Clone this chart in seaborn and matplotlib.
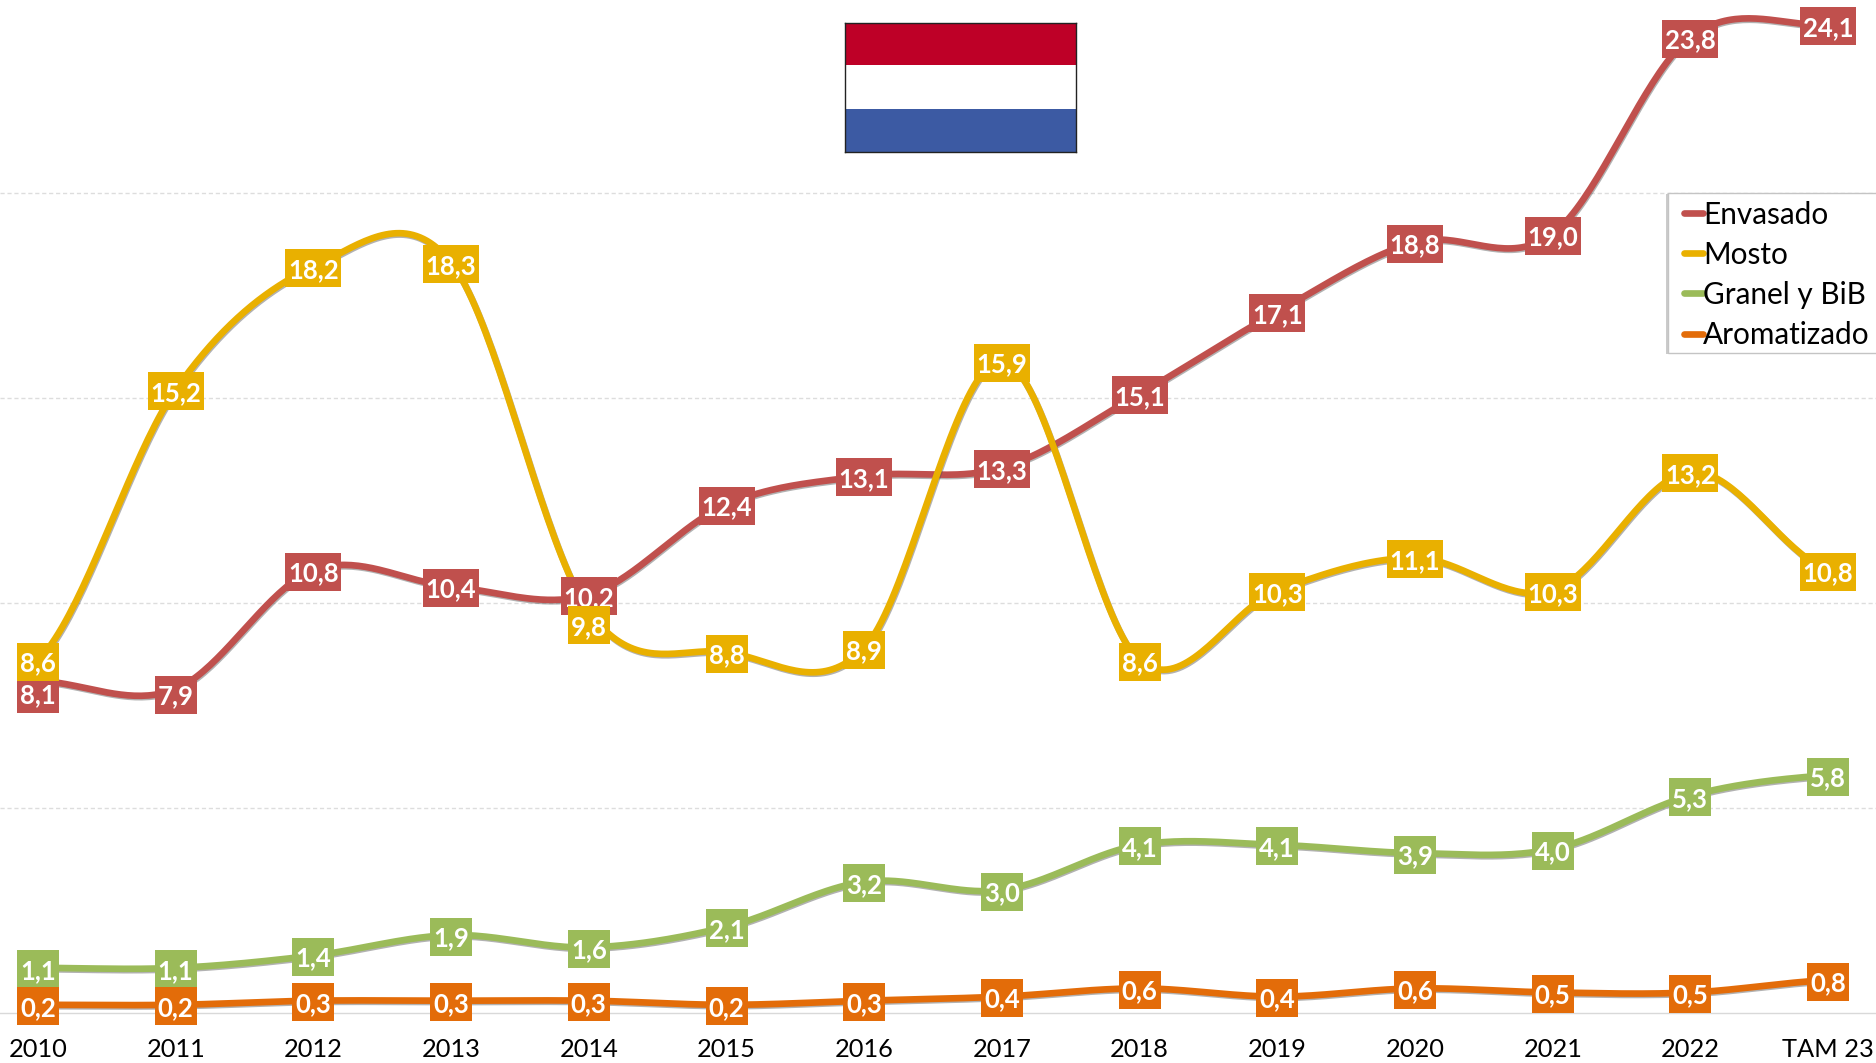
import numpy as np
import pandas as pd
import matplotlib
matplotlib.use("Agg")
import matplotlib.pyplot as plt
import matplotlib.patheffects as pe
from matplotlib.patches import Rectangle
import seaborn as sns

years = ["2010", "2011", "2012", "2013", "2014", "2015", "2016", "2017", "2018",
         "2019", "2020", "2021", "2022", "TAM 23"]
envasado = [8.1, 7.9, 10.8, 10.4, 10.2, 12.4, 13.1, 13.3, 15.1, 17.1, 18.8, 19.0, 23.8, 24.1]
mosto = [8.6, 15.2, 18.2, 18.3, 9.8, 8.8, 8.9, 15.9, 8.6, 10.3, 11.1, 10.3, 13.2, 10.8]
granel = [1.1, 1.1, 1.4, 1.9, 1.6, 2.1, 3.2, 3.0, 4.1, 4.1, 3.9, 4.0, 5.3, 5.8]
aromatizado = [0.2, 0.2, 0.3, 0.3, 0.3, 0.2, 0.3, 0.4, 0.6, 0.4, 0.6, 0.5, 0.5, 0.8]

series_names = ["Envasado", "Mosto", "Granel y BiB", "Aromatizado"]
series_values = [envasado, mosto, granel, aromatizado]
series_colors = ["#C0504D", "#E9B000", "#9BBB59", "#E36C09"]

W, H = 1876, 1063
PX_X0, PX_DX = 38.0, 137.7      # pixel of first category, pixels per category
PX_BASE, PX_UNIT = 1013.0, 41.0  # pixel of y=0, pixels per unit

sns.set_theme(style="white")
plt.rcParams["font.family"] = ["Lato", "DejaVu Sans"]


def smooth(vals, n=40):
    """Spreadsheet-style smoothed line through the points (cardinal spline)."""
    v = np.asarray(vals, float)
    m = np.zeros_like(v)
    m[1:-1] = (v[2:] - v[:-2]) / 2
    m[0] = (v[1] - v[0]) / 2
    m[-1] = (v[-1] - v[-2]) / 2
    xs, ys = [], []
    for i in range(len(v) - 1):
        t = np.linspace(0, 1, n, endpoint=False)
        y = ((2*t**3 - 3*t**2 + 1) * v[i] + (t**3 - 2*t**2 + t) * m[i]
             + (-2*t**3 + 3*t**2) * v[i+1] + (t**3 - t**2) * m[i+1])
        xs.append(i + t)
        ys.append(y)
    xs.append([len(v) - 1.0])
    ys.append([v[-1]])
    return np.concatenate(xs), np.concatenate(ys)


frames = []
for name, vals in zip(series_names, series_values):
    x, y = smooth(vals)
    frames.append(pd.DataFrame({"x": x, "y": y, "serie": name}))
df = pd.concat(frames, ignore_index=True)

fig = plt.figure(figsize=(W / 100, H / 100), dpi=100, facecolor="white")
ax = fig.add_axes([0, (H - PX_BASE) / H, 1, PX_BASE / H])
ax.set_facecolor("white")

sns.lineplot(data=df, x="x", y="y", hue="serie", hue_order=series_names,
             palette=dict(zip(series_names, series_colors)), estimator=None,
             sort=False, linewidth=4.8, ax=ax, legend=True,
             solid_capstyle="round",
             path_effects=[pe.SimpleLineShadow(offset=(0.6, -1.0), shadow_color="#555555", alpha=0.45),
                           pe.Normal()], zorder=3)

ax.set_xlim(-PX_X0 / PX_DX, (W - PX_X0) / PX_DX)
ax.set_ylim(0, PX_BASE / PX_UNIT)
ax.set_xticks(range(len(years)))
ax.set_xticklabels(years, fontsize=18.3, color="black")
ax.set_yticks([5, 10, 15, 20])
ax.set_yticklabels([])
ax.set_xlabel("")
ax.set_ylabel("")
ax.tick_params(axis="both", length=0)
ax.tick_params(axis="x", pad=18)
ax.grid(axis="y", color="#DDDDDD", linewidth=1, linestyle=(0, (3, 2)))
ax.grid(axis="x", visible=False)
ax.set_axisbelow(True)
for s in ["top", "left", "right"]:
    ax.spines[s].set_visible(False)
ax.spines["bottom"].set_color("#D9D9D9")
ax.spines["bottom"].set_linewidth(1)

# Data labels: fixed-size coloured boxes; a few were nudged down in the original
label_shift_px = {("Envasado", 0): 11.5, ("Envasado", 1): 4.5, ("Mosto", 4): 12.5}
GLOBAL_SHIFT_PX = 1.5
TEXT_SHIFT_PX = 1.5
box_h = 38 / PX_UNIT
z = 5
for name, vals, col in zip(series_names, series_values, series_colors):
    for i, v in enumerate(vals):
        txt = f"{v:.1f}".replace(".", ",")
        box_w = (56 if len(txt) > 3 else 42) / PX_DX
        yc = v - (label_shift_px.get((name, i), 0) + GLOBAL_SHIFT_PX) / PX_UNIT
        ax.add_patch(Rectangle((i - box_w / 2, yc - box_h / 2), box_w, box_h,
                               facecolor=col, edgecolor="none", zorder=z, clip_on=False))
        ax.text(i, yc - TEXT_SHIFT_PX / PX_UNIT, txt, color="white", fontsize=18.5,
                fontweight="bold", ha="center", va="center", zorder=z + 0.5)
    z += 1

# Legend panel: runs off the right edge of the figure in the original
panel = Rectangle((1668 / W, 1 - 353 / PX_BASE), (W - 1668 + 10) / W, 160 / PX_BASE,
                  transform=ax.transAxes, facecolor="white", edgecolor="#C4C4C4",
                  linewidth=1, zorder=19, clip_on=False,
                  path_effects=[pe.SimplePatchShadow(offset=(-1.2, -0.6), shadow_rgbFace="#999999", alpha=0.5),
                                pe.Normal()])
ax.add_patch(panel)

handles, labels = ax.get_legend_handles_labels()
fs = 21.4
fs_px = fs * 100 / 72
leg = ax.legend(handles, labels, loc="upper left",
                bbox_to_anchor=(1684 / W, 1 - 200.5 / PX_BASE), borderaxespad=0,
                frameon=False, fontsize=fs, handlelength=19 / fs_px, handletextpad=0.0,
                borderpad=0, labelspacing=0.41)
leg.set_zorder(20)
for h in leg.get_lines():
    h.set_linewidth(4.8)
    h.set_solid_capstyle("round")
    h.set_path_effects([pe.Normal()])
for t in leg.get_texts():
    t.set_color("black")

# Flag
fa = fig.add_axes([845 / W, 1 - 151.5 / H, 230.5 / W, 128.5 / H])
fa.set_xlim(0, 1)
fa.set_ylim(0, 129)
fa.add_patch(Rectangle((0, 87), 1, 42, facecolor="#BE0027", edgecolor="none"))
fa.add_patch(Rectangle((0, 43), 1, 44, facecolor="white", edgecolor="none"))
fa.add_patch(Rectangle((0, 0), 1, 43, facecolor="#3C5AA3", edgecolor="none"))
fa.set_xticks([])
fa.set_yticks([])
for s in fa.spines.values():
    s.set_visible(True)
    s.set_color("#222222")
    s.set_linewidth(1)

fig.savefig("out.png", dpi=100, facecolor="white")
